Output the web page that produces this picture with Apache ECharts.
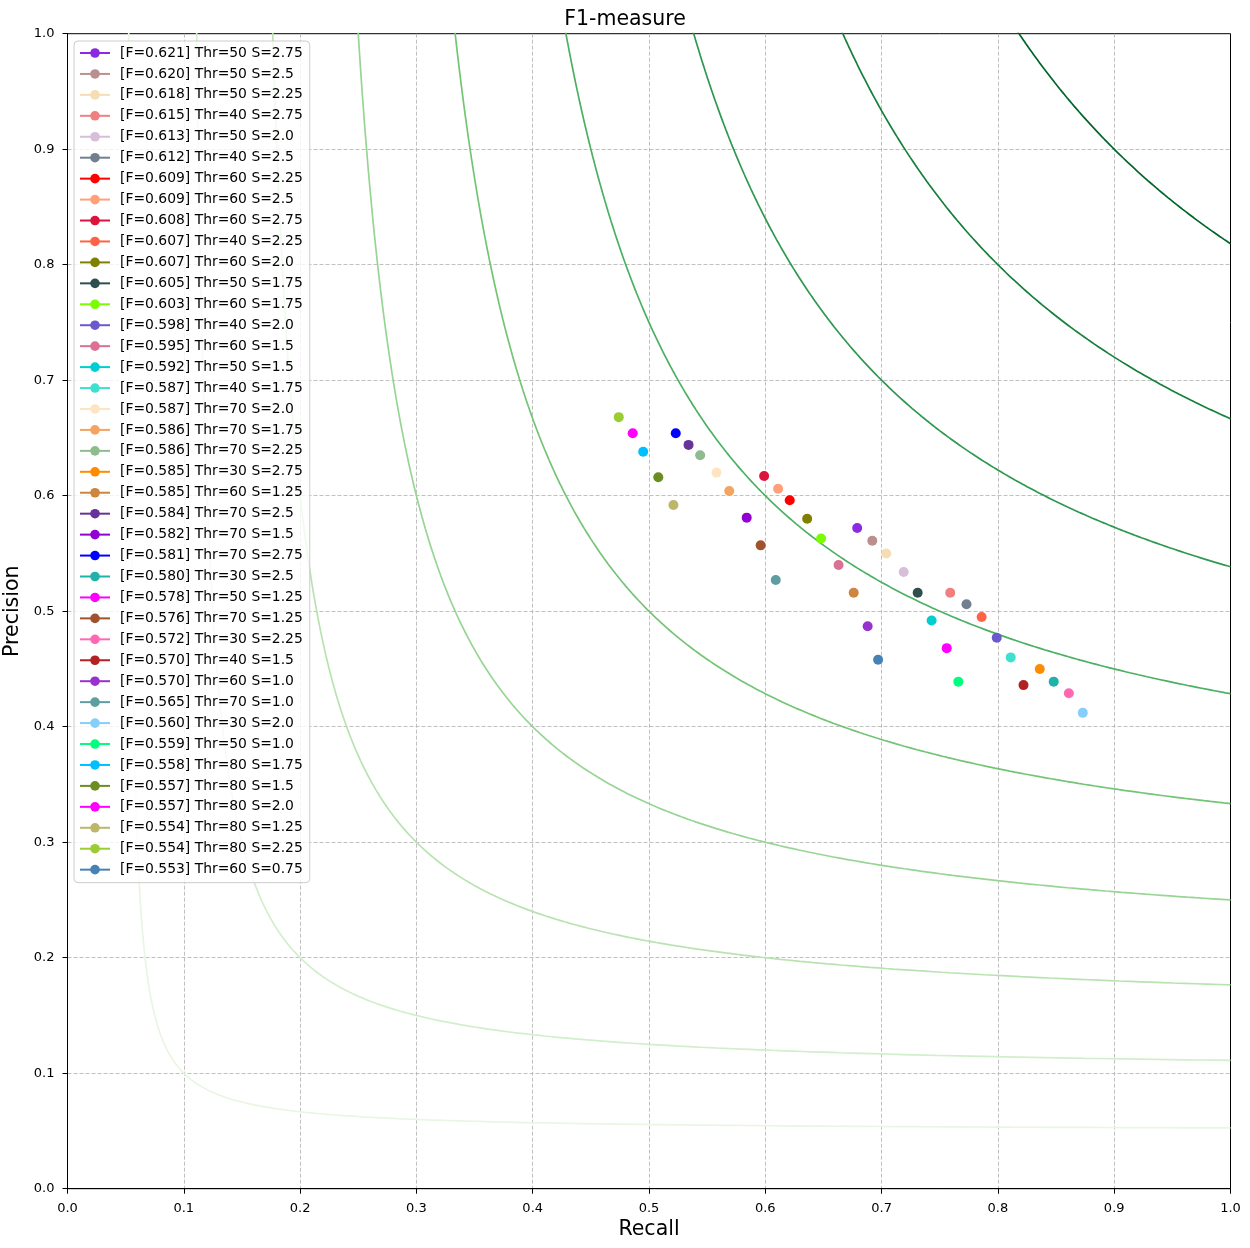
<!DOCTYPE html>
<html>
<head>
<meta charset="utf-8">
<title>F1-measure</title>
<script src="https://cdn.jsdelivr.net/npm/echarts@6/dist/echarts.min.js"></script>
<style>
  html, body { margin: 0; padding: 0; background: #fff; }
  #chart { width: 1250px; height: 1248px; }
</style>
</head>
<body>
<div id="chart"></div>
<script>
// legend labels, sorted by F as in the original
var labels = [
  "[F=0.621] Thr=50 S=2.75", "[F=0.620] Thr=50 S=2.5", "[F=0.618] Thr=50 S=2.25",
  "[F=0.615] Thr=40 S=2.75", "[F=0.613] Thr=50 S=2.0", "[F=0.612] Thr=40 S=2.5",
  "[F=0.609] Thr=60 S=2.25", "[F=0.609] Thr=60 S=2.5", "[F=0.608] Thr=60 S=2.75",
  "[F=0.607] Thr=40 S=2.25", "[F=0.607] Thr=60 S=2.0", "[F=0.605] Thr=50 S=1.75",
  "[F=0.603] Thr=60 S=1.75", "[F=0.598] Thr=40 S=2.0", "[F=0.595] Thr=60 S=1.5",
  "[F=0.592] Thr=50 S=1.5", "[F=0.587] Thr=40 S=1.75", "[F=0.587] Thr=70 S=2.0",
  "[F=0.586] Thr=70 S=1.75", "[F=0.586] Thr=70 S=2.25", "[F=0.585] Thr=30 S=2.75",
  "[F=0.585] Thr=60 S=1.25", "[F=0.584] Thr=70 S=2.5", "[F=0.582] Thr=70 S=1.5",
  "[F=0.581] Thr=70 S=2.75", "[F=0.580] Thr=30 S=2.5", "[F=0.578] Thr=50 S=1.25",
  "[F=0.576] Thr=70 S=1.25", "[F=0.572] Thr=30 S=2.25", "[F=0.570] Thr=40 S=1.5",
  "[F=0.570] Thr=60 S=1.0", "[F=0.565] Thr=70 S=1.0", "[F=0.560] Thr=30 S=2.0",
  "[F=0.559] Thr=50 S=1.0", "[F=0.558] Thr=80 S=1.75", "[F=0.557] Thr=80 S=1.5",
  "[F=0.557] Thr=80 S=2.0", "[F=0.554] Thr=80 S=1.25", "[F=0.554] Thr=80 S=2.25",
  "[F=0.553] Thr=60 S=0.75"
];

var colors = [
  "#8A2BE2", "#BC8F8F", "#F5DEB3", "#F08080", "#D8BFD8", "#708090",
  "#FF0000", "#FFA07A", "#DC143C", "#FF6347", "#808000", "#2F4F4F",
  "#7CFC00", "#6A5ACD", "#DB7093", "#00CED1", "#40E0D0", "#FFE4C4",
  "#F4A460", "#8FBC8F", "#FF8C00", "#CD853F", "#663399", "#9400D3",
  "#0000FF", "#20B2AA", "#FF00FF", "#A0522D", "#FF69B4", "#B22222",
  "#9932CC", "#5F9EA0", "#87CEFA", "#00FF7F", "#00BFFF", "#6B8E23",
  "#FF00FF", "#BDB76B", "#9ACD32", "#4682B4"
];

var recall = [
  0.679, 0.692, 0.704, 0.759, 0.719, 0.773, 0.621, 0.611, 0.599, 0.786,
  0.636, 0.731, 0.648, 0.799, 0.663, 0.743, 0.811, 0.558, 0.569, 0.544,
  0.836, 0.676, 0.534, 0.584, 0.523, 0.848, 0.756, 0.596, 0.861, 0.822,
  0.688, 0.609, 0.873, 0.766, 0.495, 0.508, 0.486, 0.521, 0.474, 0.697
];

var precision = [
  0.572, 0.561, 0.550, 0.516, 0.534, 0.506, 0.596, 0.606, 0.617, 0.495,
  0.580, 0.516, 0.563, 0.477, 0.540, 0.492, 0.460, 0.620, 0.604, 0.635,
  0.450, 0.516, 0.644, 0.581, 0.654, 0.439, 0.468, 0.557, 0.429, 0.436,
  0.487, 0.527, 0.412, 0.439, 0.638, 0.616, 0.654, 0.592, 0.668, 0.458
];

// iso-F1 levels and their colours (Greens colormap)
var fLevels = [0.1, 0.2, 0.3, 0.4, 0.5, 0.6, 0.7, 0.8, 0.9];
var fColors = ["#e9f6e4", "#d3eecd", "#b8e3b1", "#98d594", "#74c476",
               "#4bb062", "#2f984f", "#157f3b", "#006529"];

var FONT = "DejaVu Sans";

// iso-F1 curve: P = F*R / (2R - F), sampled on u = 2R - F
function isoCurve(f) {
  var pts = [];
  var u0 = f * f / (2 - f) * 0.9;
  var u1 = 2 - f;
  var n = 300;
  for (var i = 0; i <= n; i++) {
    var u = u0 * Math.pow(u1 / u0, i / n);
    var r = (u + f) / 2;
    pts.push([r, f * r / u]);
  }
  return pts;
}

var series = [];

fLevels.forEach(function (f, i) {
  series.push({
    type: "line",
    data: isoCurve(f),
    showSymbol: false,
    silent: true,
    z: 1,
    lineStyle: { color: fColors[i], width: 1.7 },
    animation: false
  });
});

labels.forEach(function (name, i) {
  series.push({
    name: name,
    type: "line",
    data: [[recall[i], precision[i]]],
    symbol: "circle",
    symbolSize: 10,
    z: 3,
    itemStyle: { color: colors[i] },
    lineStyle: { color: colors[i], width: 1.5 },
    animation: false
  });
});

var tickLabel = {
  fontFamily: FONT, fontSize: 13, color: "#000", margin: 13,
  formatter: function (v) { return v.toFixed(1); }
};
// no split line on the frame edges, the grid border draws them
var gridLine = {
  show: true, showMinLine: false, showMaxLine: false,
  lineStyle: { color: "#b0b0b0", type: [4, 2], width: 0.8 }
};
var blackLine = { show: true, onZero: false, lineStyle: { color: "#000", width: 1 } };

var myChart = echarts.init(document.getElementById("chart"));

myChart.setOption({
  backgroundColor: "#fff",
  animation: false,
  title: {
    text: "F1-measure",
    left: "center",
    top: 4,
    textStyle: { fontFamily: FONT, fontSize: 20.5, fontWeight: "normal", color: "#000" }
  },
  grid: {
    left: 67.5, right: 19.5, top: 33.7, bottom: 59.3,
    show: true, borderColor: "#000", borderWidth: 1,
    containLabel: false, outerBoundsMode: "none"
  },
  legend: {
    data: labels,
    orient: "vertical",
    left: 74,
    top: 41,
    padding: [5, 7, 6, 5],
    itemWidth: 30,
    itemHeight: 12,
    itemGap: 6.94,
    backgroundColor: "rgba(255,255,255,0.8)",
    borderColor: "#cccccc",
    borderWidth: 1,
    borderRadius: 4,
    selectedMode: false,
    textStyle: {
      fontFamily: FONT, fontSize: 13.9, color: "#000",
      lineHeight: 14, padding: [0, 0, 0, 5]
    }
  },
  xAxis: {
    type: "value",
    min: 0, max: 1, interval: 0.1,
    name: "Recall",
    nameLocation: "middle",
    nameGap: 30,
    nameTextStyle: { fontFamily: FONT, fontSize: 20.5, color: "#000" },
    axisLine: blackLine,
    axisTick: { show: true, length: 5, lineStyle: { color: "#000" } },
    axisLabel: tickLabel,
    splitLine: gridLine
  },
  yAxis: {
    type: "value",
    min: 0, max: 1, interval: 0.1,
    name: "Precision",
    nameLocation: "middle",
    nameGap: 34,
    nameTextStyle: { fontFamily: FONT, fontSize: 20.5, color: "#000" },
    axisLine: blackLine,
    axisTick: { show: true, length: 5, lineStyle: { color: "#000" } },
    axisLabel: tickLabel,
    splitLine: gridLine
  },
  series: series
});
</script>
</body>
</html>
